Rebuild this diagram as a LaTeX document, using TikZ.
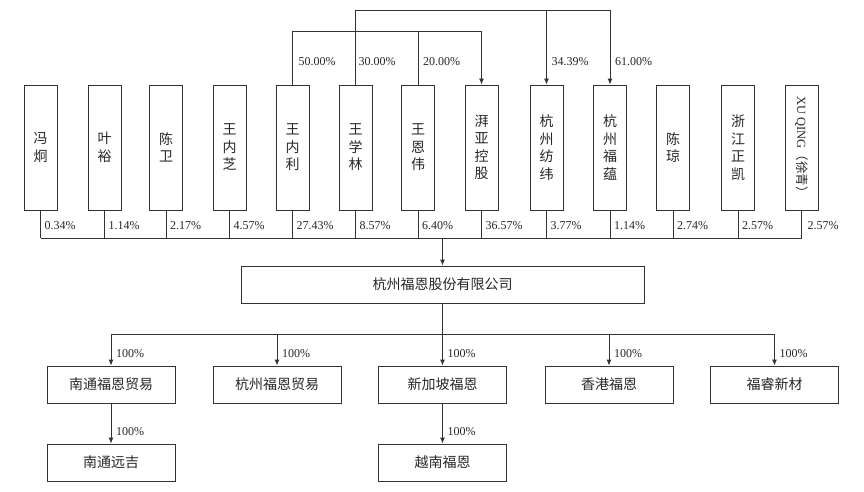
\documentclass[tikz,border=0pt]{standalone}
\usepackage{graphicx}
\usepackage{fontspec}
\setmainfont{Liberation Serif}
\newfontfamily\cjk{Noto Sans CJK SC}
\usetikzlibrary{arrows.meta}

\tikzset{
	link/.style={draw=black!80, line width=0.9pt},
	arr/.style={link, -{Latex[length=6pt,width=5pt]}},
	holder/.style={link, minimum width=33pt, minimum height=125pt, inner sep=0pt, align=center, text=black!85, font=\cjk\fontsize{14}{17.5}\selectfont},
	company/.style={link, minimum width=128pt, minimum height=37pt, inner sep=0pt, text=black!85, font=\cjk\fontsize{14}{16}\selectfont},
	pct/.style={anchor=west, inner sep=0pt, text=black!85, font=\fontsize{12}{14}\selectfont}
}

\begin{document}
\begin{tikzpicture}[x=1pt,y=-1pt]
	\useasboundingbox (0,0) rectangle (864,492);

	% Levels of the connector lines
	\coordinate (top1) at (0,31);
	\coordinate (top2) at (0,10);
	\coordinate (bus) at (0,238);
	\coordinate (sub) at (0,334);

	% Shareholders
	\foreach \i/\x/\name/\p in {1/40.5/冯\\炯/0.34, 2/104.5/叶\\裕/1.14, 3/166/陈\\卫/2.17,
		4/229.5/王\\内\\芝/4.57, 5/292.5/王\\内\\利/27.43, 6/355.5/王\\学\\林/8.57,
		7/418/王\\恩\\伟/6.40, 8/481.5/湃\\亚\\控\\股/36.57, 9/546.5/杭\\州\\纺\\纬/3.77,
		10/610/杭\\州\\福\\蕴/1.14, 11/673/陈\\琼/2.74, 12/738/浙\\江\\正\\凯/2.57}{
		\node[holder] (s\i) at (\x,147.5) {\name};
		\draw[link] (s\i.south) -- (s\i.south |- bus);
		\path (s\i.south) ++(4,15) node[pct] {\p\%};
	}
	\node[holder] (s13) at (801.5,147.5) {\rotatebox{-90}{\fontsize{12.5}{14}\selectfont{\rmfamily XU QING}（徐青）}};
	\draw[link] (s13.south) -- (s13.south |- bus);
	\path (s13.south) ++(6,15) node[pct] {2.57\%};
	\draw[link] (s1.south |- bus) -- (s13.south |- bus);

	% Holdings among the shareholders
	\draw[link] (s5.north) -- (s5.north |- top1) -- (s8.north |- top1);
	\draw[link] (s7.north) -- (s7.north |- top1);
	\draw[arr] (s8.north |- top1) -- (s8.north);
	\draw[link] (s6.north) -- (s6.north |- top2) -- (s10.north |- top2);
	\draw[arr] (s9.north |- top2) -- (s9.north);
	\draw[arr] (s10.north |- top2) -- (s10.north);
	\path (s5.north) ++(6,-23) node[pct] {50.00\%};
	\path (s6.north) ++(3,-23) node[pct] {30.00\%};
	\path (s7.north) ++(5,-23) node[pct] {20.00\%};
	\path (s9.north) ++(5,-23) node[pct] {34.39\%};
	\path (s10.north) ++(5,-23) node[pct] {61.00\%};

	% Company
	\node[company, minimum width=403pt] (fn) at (442.5,284.5) {杭州福恩股份有限公司};
	\draw[arr] (fn.north |- bus) -- (fn.north);

	% Subsidiaries
	\node[company] (c1) at (111,384.5) {南通福恩贸易};
	\node[company] (c2) at (277,384.5) {杭州福恩贸易};
	\node[company] (c3) at (442.5,384.5) {新加坡福恩};
	\node[company] (c4) at (609,384.5) {香港福恩};
	\node[company] (c5) at (774.5,384.5) {福睿新材};
	\node[company] (g1) at (111,462.5) {南通远吉};
	\node[company] (g2) at (442.5,462.5) {越南福恩};

	\draw[arr] (fn.south) -- (c3.north);
	\draw[link] (c1.north |- sub) -- (c5.north |- sub);
	\foreach \c in {c1,c2,c4,c5}
		\draw[arr] (\c.north |- sub) -- (\c.north);
	\draw[arr] (c1.south) -- (g1.north);
	\draw[arr] (c3.south) -- (g2.north);
	\foreach \c in {c1,c2,c3,c4,c5,g1,g2}
		\path (\c.north) ++(5,-12) node[pct] {100\%};
\end{tikzpicture}
\end{document}
